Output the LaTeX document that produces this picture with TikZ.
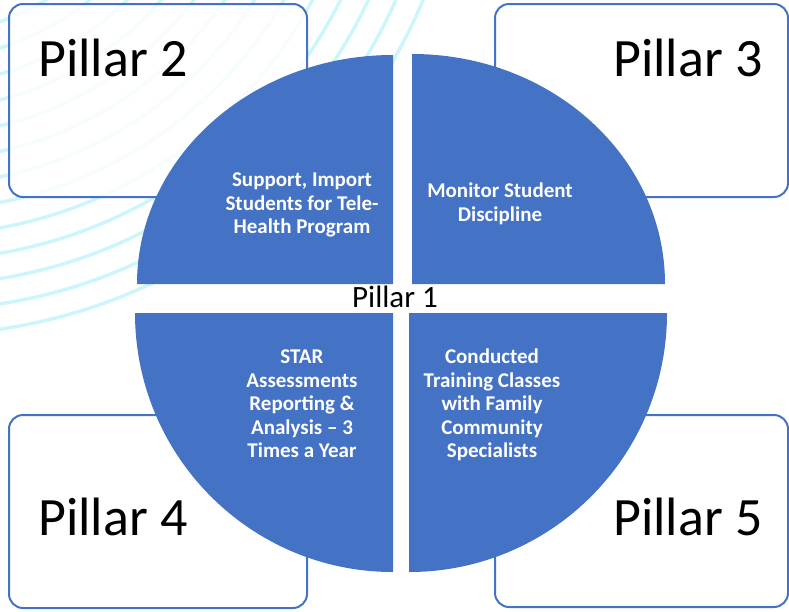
\documentclass[tikz,border=0pt]{standalone}
\usepackage{fontspec}
\setmainfont{Carlito}
\definecolor{qblue}{HTML}{4472C4}
\definecolor{arccyan}{HTML}{CCF6FA}
\tikzset{
  pillarbox/.style={draw=qblue, line width=2pt, rounded corners=14pt, fill=white, fill opacity=0.85},
  quad/.style={fill=qblue, draw=none},
  quadtext/.style={text=white, align=center, font=\bfseries\fontsize{21}{23.5}\selectfont, inner sep=0pt},
  pillartext/.style={text=black, font=\fontsize{54}{60}\selectfont, inner sep=0pt},
  arcline/.style={draw=arccyan, line width=3.5pt}
}
\begin{document}
\begin{tikzpicture}[x=1pt,y=-1pt]
\useasboundingbox (0,0) rectangle (789,611);
% background arcs
\begin{scope}
\clip (0,0) rectangle (789,611);
\foreach \r in {220,245,...,545} {
  \draw[arcline] (-80,-210) circle[radius=\r];
}
\end{scope}
% pillar boxes
\draw[pillarbox] (9,4) rectangle (307,197);
\draw[pillarbox] (495,4) rectangle (788,197);
\draw[pillarbox] (9,415) rectangle (307,608);
\draw[pillarbox] (495,415) rectangle (788,607);
% quadrants
\fill[quad] (393,284) -- (137,284) arc[start angle=180, end angle=270, x radius=256, y radius=229] -- cycle;
\fill[quad] (412,284) -- (412,54) arc[start angle=270, end angle=360, x radius=253, y radius=230] -- cycle;
\fill[quad] (393,313) -- (135,313) arc[start angle=180, end angle=270, x radius=258, y radius=-259] -- cycle;
\fill[quad] (409,313) -- (667,313) arc[start angle=0, end angle=-90, x radius=258, y radius=-259] -- cycle;
% quadrant texts
\node[quadtext] (q2) at (302,205) {Support, Import\\Students for Tele-\\Health Program};
\node[quadtext] (q3) at (500,204) {Monitor Student\\Discipline};
\node[quadtext] (q4) at (302,404) {STAR\\Assessments\\Reporting \&\\Analysis – 3\\Times a Year};
\node[quadtext] (q5) at (492,405) {Conducted\\Training Classes\\with Family\\Community\\Specialists};
% pillar labels
\node[pillartext, anchor=base west] (p2) at (38,76) {Pillar 2};
\node[pillartext, anchor=base west] (p3) at (613,76) {Pillar 3};
\node[pillartext, anchor=base west] (p4) at (38,535) {Pillar 4};
\node[pillartext, anchor=base west] (p5) at (613,535) {Pillar 5};
\node[text=black, font=\fontsize{31}{34}\selectfont, inner sep=0pt, anchor=base] (p1) at (395,307) {Pillar 1};
\end{tikzpicture}
\end{document}
